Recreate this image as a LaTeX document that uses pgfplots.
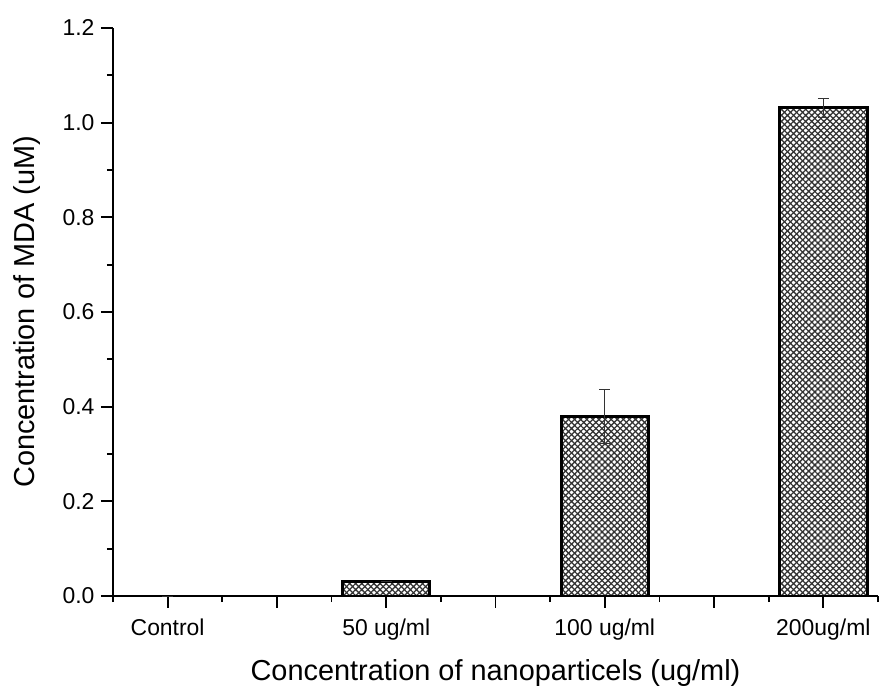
\documentclass[border=0pt]{standalone}
\usepackage{pgfplots}
\pgfplotsset{compat=1.18}
\usepackage{fontspec}
\setmainfont{Liberation Sans}
\usetikzlibrary{patterns.meta}

% MDA concentration per nanoparticle dose
\pgfplotstableread{
x   y      err
1   0.000  0.000
2   0.030  0.000
3   0.380  0.057
4   1.031  0.020
}\mdadata

\begin{document}
\begin{tikzpicture}
\begin{axis}[
    name=ax,
    at={(0,0)}, anchor=south west,
    scale only axis,
    width=765bp, height=568bp,
    xmin=0.75, xmax=4.25,
    ymin=0, ymax=1.2,
    axis lines*=left,
    axis line style={line width=1.8bp},
    tick align=outside,
    major tick length=12bp, minor tick length=6bp,
    every tick/.style={line width=1.8bp, black},
    xtick={1,1.5,2,2.5,3,3.5,4},
    xticklabels={Control,,50 ug/ml,,100 ug/ml,,200ug/ml},
    minor xtick={0.75,1.25,1.75,2.25,2.75,3.25,3.75,4.25},
    ytick={0,0.2,0.4,0.6,0.8,1.0,1.2},
    minor ytick={0.1,0.3,0.5,0.7,0.9,1.1},
    ticklabel style={font=\fontsize{23}{25}\selectfont},
    xticklabel style={yshift=-7bp},
    /pgf/number format/assume math mode=true,
    yticklabel style={xshift=-3bp, /pgf/number format/.cd, fixed, fixed zerofill, precision=1},
    xlabel={Concentration of nanoparticels (ug/ml)},
    ylabel={Concentration of MDA (uM)},
    label style={font=\fontsize{29}{32}\selectfont},
    xlabel style={at={(axis description cs:0.5,-0.136)}, anchor=center},
    ylabel style={at={(axis description cs:-0.113,0.5)}, anchor=center},
    ybar, bar width=0.4,
]
\addplot[
    draw=black, line width=3bp,
    pattern={Lines[angle=45, distance=4.3bp, line width=1.3bp]},
    pattern color=black!80,
    postaction={pattern={Lines[angle=-45, distance=4.3bp, line width=1.3bp]}, pattern color=black!80},
    error bars/.cd, y dir=both, y explicit,
    error bar style={line width=1bp, black!80, postaction={}},
    error mark options={rotate=90, mark size=5.5bp, line width=1bp, black!80},
] table[x=x, y=y, y error=err] {\mdadata};
\end{axis}
\pgfresetboundingbox
\path[use as bounding box] ([shift={(-113bp,-94bp)}]ax.south west) rectangle ([shift={(766bp,596bp)}]ax.south west);
\end{tikzpicture}
\end{document}
